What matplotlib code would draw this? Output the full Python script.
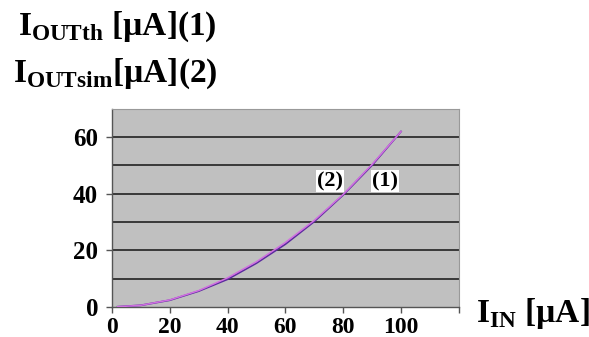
import numpy as np
import matplotlib.pyplot as plt

plt.rcParams['font.family'] = 'Liberation Serif'
plt.rcParams['font.weight'] = 'bold'
plt.rcParams['mathtext.fontset'] = 'custom'
plt.rcParams['mathtext.rm'] = 'Liberation Serif:bold'
plt.rcParams['mathtext.bf'] = 'Liberation Serif:bold'

# данные
i_in = [2, 10, 20, 30, 40, 50, 60, 70, 80, 90, 100]
i_out_th = [0.1, 0.6, 2.5, 5.8, 10.3, 16.0, 22.8, 30.6, 39.8, 50.4, 62.0]   # (1)
i_out_sim = [0.1, 0.6, 2.4, 5.6, 9.8, 15.5, 22.2, 30.2, 39.6, 50.1, 62.0]  # (2)
x_ticks = [0, 20, 40, 60, 80, 100, 120]
x_labels = ['0', '20', '40', '60', '80', '100', '']
y_ticks = [0, 20, 40, 60]

fig = plt.figure(figsize=(5.89, 3.37), dpi=100)
ax = fig.add_axes([0.190, 0.089, 0.589, 0.588])
ax.set_facecolor('#c0c0c0')

for y in range(10, 71, 10):
    ax.axhline(y, color='#222222', lw=1.2, zorder=1)

ax.plot(i_in, i_out_sim, color='#5b2a9e', lw=1.3, zorder=3)
ax.plot(i_in, i_out_th, color='#d070e0', lw=1.1, zorder=4)

ax.set_xlim(0, 120)
ax.set_ylim(0, 70)
ax.set_xticks(x_ticks)
ax.set_xticklabels(x_labels)
ax.set_yticks(y_ticks)
ax.tick_params(axis='both', labelsize=18, colors='#555555', labelcolor='black',
               length=4, width=1)
ax.tick_params(axis='x', pad=3, labelsize=17)
ax.tick_params(axis='y', pad=6)
for lab in ax.get_xticklabels() + ax.get_yticklabels():
    lab.set_fontweight('bold')

for side in ['top', 'right']:
    ax.spines[side].set_color('#999999')
    ax.spines[side].set_linewidth(0.8)
for side in ['left', 'bottom']:
    ax.spines[side].set_color('#555555')
    ax.spines[side].set_linewidth(1.0)

box = dict(facecolor='white', edgecolor='none', pad=1)
ax.text(75.4, 44.5, '(2)', fontsize=16, fontweight='bold', ha='center', va='center', bbox=box, zorder=5)
ax.text(94.5, 44.5, '(1)', fontsize=16, fontweight='bold', ha='center', va='center', bbox=box, zorder=5)

fig.text(18 / 589, 1 - 35 / 337, r'$\mathrm{I}_{\mathrm{OUTth}}$ [µA](1)', fontsize=24, fontweight='bold')
fig.text(13 / 589, 1 - 82 / 337, r'$\mathrm{I}_{\mathrm{OUTsim}}$[µA](2)', fontsize=24, fontweight='bold')
fig.text(476 / 589, 1 - 322 / 337, r'$\mathrm{I}_{\mathrm{IN}}$ [µA]', fontsize=24, fontweight='bold')

fig.savefig('out.png', dpi=100, facecolor='white')
